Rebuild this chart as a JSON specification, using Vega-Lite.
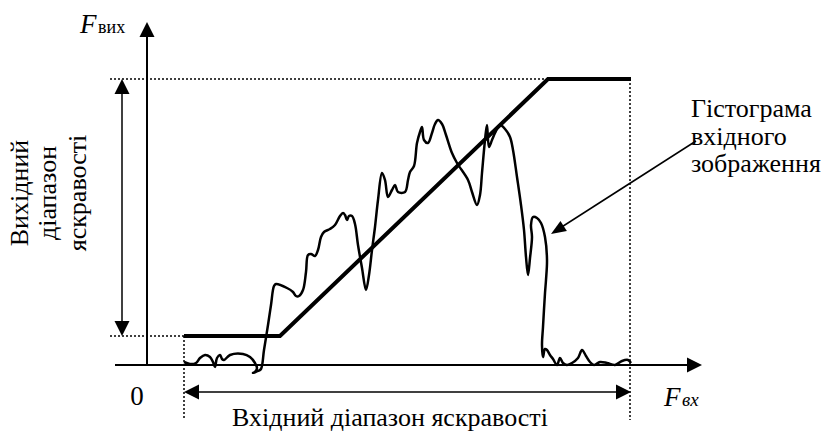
{
  "$schema": "https://vega.github.io/schema/vega-lite/v6.json",
  "width": 822,
  "height": 432,
  "padding": 0,
  "autosize": {"type": "fit", "contains": "padding"},
  "config": {"view": {"stroke": null}},
  "datasets": {
    "segs": [
      {"kind": "axis", "x": 0, "y": 0, "x2": 0, "y2": 335},
      {"kind": "axis", "x": -32, "y": 0, "x2": 547, "y2": 0},
      {"kind": "dot", "x": -37, "y": 286, "x2": 483, "y2": 286},
      {"kind": "dot", "x": 483, "y": 286, "x2": 483, "y2": -55},
      {"kind": "dot", "x": -37, "y": 29, "x2": 37, "y2": 29},
      {"kind": "dot", "x": 37, "y": 29, "x2": 37, "y2": -55},
      {"kind": "thin", "x": -25, "y": 280, "x2": -25, "y2": 35},
      {"kind": "thin", "x": 43, "y": -27, "x2": 478, "y2": -27},
      {"kind": "thin", "x": 549, "y": 224, "x2": 410, "y2": 135}
    ],
    "transfer": [
      {"i": 1, "x": 37, "y": 29},
      {"i": 2, "x": 133, "y": 29},
      {"i": 3, "x": 401, "y": 286},
      {"i": 4, "x": 484, "y": 286}
    ],
    "hist": [
      {"i": 1, "x": 37, "y": 3}, {"i": 2, "x": 43, "y": 1}, {"i": 3, "x": 49, "y": 2},
      {"i": 4, "x": 53, "y": 7}, {"i": 5, "x": 58, "y": 10}, {"i": 6, "x": 63, "y": 8},
      {"i": 7, "x": 66, "y": 3}, {"i": 8, "x": 68, "y": -2}, {"i": 9, "x": 70, "y": 7},
      {"i": 10, "x": 73, "y": 10}, {"i": 11, "x": 75, "y": 6}, {"i": 12, "x": 77, "y": 5},
      {"i": 13, "x": 83, "y": 10}, {"i": 14, "x": 96, "y": 11}, {"i": 15, "x": 103, "y": 8},
      {"i": 16, "x": 108, "y": 2}, {"i": 17, "x": 110, "y": -3}, {"i": 18, "x": 108, "y": -7},
      {"i": 19, "x": 106, "y": -8}, {"i": 20, "x": 111, "y": -6}, {"i": 21, "x": 114, "y": -4},
      {"i": 22, "x": 117, "y": 15}, {"i": 23, "x": 121, "y": 40}, {"i": 24, "x": 124, "y": 60},
      {"i": 25, "x": 127, "y": 79}, {"i": 26, "x": 129, "y": 81}, {"i": 27, "x": 140, "y": 77},
      {"i": 28, "x": 146, "y": 73}, {"i": 29, "x": 149, "y": 69}, {"i": 30, "x": 152, "y": 69},
      {"i": 31, "x": 156, "y": 75}, {"i": 32, "x": 159, "y": 93}, {"i": 33, "x": 161, "y": 110},
      {"i": 34, "x": 164, "y": 111}, {"i": 35, "x": 168, "y": 109}, {"i": 36, "x": 171, "y": 115},
      {"i": 37, "x": 174, "y": 128}, {"i": 38, "x": 177, "y": 133}, {"i": 39, "x": 183, "y": 136},
      {"i": 40, "x": 188, "y": 140}, {"i": 41, "x": 193, "y": 149}, {"i": 42, "x": 196, "y": 152},
      {"i": 43, "x": 198, "y": 150}, {"i": 44, "x": 200, "y": 145}, {"i": 45, "x": 202, "y": 149},
      {"i": 46, "x": 205, "y": 149}, {"i": 47, "x": 208, "y": 141}, {"i": 48, "x": 211, "y": 120},
      {"i": 49, "x": 215, "y": 97}, {"i": 50, "x": 219, "y": 75}, {"i": 51, "x": 222, "y": 90},
      {"i": 52, "x": 225, "y": 115}, {"i": 53, "x": 228, "y": 138}, {"i": 54, "x": 231, "y": 165},
      {"i": 55, "x": 235, "y": 192}, {"i": 56, "x": 238, "y": 185}, {"i": 57, "x": 241, "y": 168},
      {"i": 58, "x": 245, "y": 175}, {"i": 59, "x": 248, "y": 180}, {"i": 60, "x": 251, "y": 173},
      {"i": 61, "x": 258, "y": 173}, {"i": 62, "x": 261, "y": 185}, {"i": 63, "x": 263, "y": 193},
      {"i": 64, "x": 267, "y": 199}, {"i": 65, "x": 270, "y": 222}, {"i": 66, "x": 273, "y": 233},
      {"i": 67, "x": 275, "y": 238}, {"i": 68, "x": 277, "y": 225}, {"i": 69, "x": 281, "y": 222},
      {"i": 70, "x": 285, "y": 232}, {"i": 71, "x": 288, "y": 241}, {"i": 72, "x": 291, "y": 245},
      {"i": 73, "x": 295, "y": 241}, {"i": 74, "x": 299, "y": 230}, {"i": 75, "x": 305, "y": 212},
      {"i": 76, "x": 310, "y": 202}, {"i": 77, "x": 321, "y": 185}, {"i": 78, "x": 325, "y": 173},
      {"i": 79, "x": 330, "y": 160}, {"i": 80, "x": 333, "y": 170}, {"i": 81, "x": 335, "y": 192},
      {"i": 82, "x": 338, "y": 225}, {"i": 83, "x": 340, "y": 240}, {"i": 84, "x": 342, "y": 218},
      {"i": 85, "x": 345, "y": 225}, {"i": 86, "x": 348, "y": 232}, {"i": 87, "x": 353, "y": 240},
      {"i": 88, "x": 358, "y": 236}, {"i": 89, "x": 363, "y": 228}, {"i": 90, "x": 366, "y": 215},
      {"i": 91, "x": 370, "y": 188}, {"i": 92, "x": 374, "y": 160}, {"i": 93, "x": 377, "y": 135},
      {"i": 94, "x": 379, "y": 108}, {"i": 95, "x": 381, "y": 90}, {"i": 96, "x": 383, "y": 107},
      {"i": 97, "x": 385, "y": 128}, {"i": 98, "x": 384, "y": 140}, {"i": 99, "x": 386, "y": 148},
      {"i": 100, "x": 390, "y": 147}, {"i": 101, "x": 394, "y": 142}, {"i": 102, "x": 398, "y": 128},
      {"i": 103, "x": 400, "y": 105}, {"i": 104, "x": 399, "y": 85}, {"i": 105, "x": 398, "y": 72},
      {"i": 106, "x": 396, "y": 38}, {"i": 107, "x": 395, "y": 20}, {"i": 108, "x": 396, "y": 8},
      {"i": 109, "x": 398, "y": 16}, {"i": 110, "x": 400, "y": 15}, {"i": 111, "x": 403, "y": 10},
      {"i": 112, "x": 406, "y": 6}, {"i": 113, "x": 410, "y": 0}, {"i": 114, "x": 413, "y": 7},
      {"i": 115, "x": 416, "y": 2}, {"i": 116, "x": 420, "y": 0}, {"i": 117, "x": 425, "y": 2},
      {"i": 118, "x": 431, "y": 7}, {"i": 119, "x": 435, "y": 15}, {"i": 120, "x": 439, "y": 9},
      {"i": 121, "x": 443, "y": 3}, {"i": 122, "x": 447, "y": 0}, {"i": 123, "x": 453, "y": 3},
      {"i": 124, "x": 460, "y": 2}, {"i": 125, "x": 468, "y": 0}, {"i": 126, "x": 475, "y": 4},
      {"i": 127, "x": 481, "y": 5}, {"i": 128, "x": 484, "y": 2}
    ],
    "arrows": [
      {"kind": "big", "x": 0, "y": 343, "deg": 0},
      {"kind": "big", "x": 555, "y": 0, "deg": 90},
      {"kind": "big", "x": -25, "y": 286, "deg": 0},
      {"kind": "big", "x": -25, "y": 29, "deg": 180},
      {"kind": "big", "x": 37, "y": -27, "deg": 270},
      {"kind": "big", "x": 484, "y": -27, "deg": 90},
      {"kind": "slim", "x": 404, "y": 131, "deg": 237.6}
    ],
    "anchors": [
      {"id": "Fy", "x": -67, "y": 332},
      {"id": "Fx", "x": 517, "y": -41},
      {"id": "sy", "x": -49, "y": 332},
      {"id": "sx", "x": 535, "y": -41},
      {"id": "zero", "x": -10, "y": -40},
      {"id": "main", "x": 243, "y": -61},
      {"id": "r1", "x": -119, "y": 172},
      {"id": "r2", "x": -91, "y": 172},
      {"id": "r3", "x": -61, "y": 172},
      {"id": "n1", "x": 544, "y": 248},
      {"id": "n2", "x": 544, "y": 220},
      {"id": "n3", "x": 544, "y": 193}
    ]
  },
  "encoding": {
    "x": {"field": "x", "type": "quantitative", "axis": null, "scale": {"domain": [-147, 675], "nice": false, "zero": false}},
    "y": {"field": "y", "type": "quantitative", "axis": null, "scale": {"domain": [-67, 365], "nice": false, "zero": false}}
  },
  "layer": [
    {
      "data": {"name": "segs"},
      "transform": [{"filter": "datum.kind === 'dot'"}],
      "mark": {"type": "rule", "color": "black", "strokeWidth": 1.5, "strokeDash": [2, 2]},
      "encoding": {"x2": {"field": "x2"}, "y2": {"field": "y2"}}
    },
    {
      "data": {"name": "segs"},
      "transform": [{"filter": "datum.kind === 'axis'"}],
      "mark": {"type": "rule", "color": "black", "strokeWidth": 2},
      "encoding": {"x2": {"field": "x2"}, "y2": {"field": "y2"}}
    },
    {
      "data": {"name": "segs"},
      "transform": [{"filter": "datum.kind === 'thin'"}],
      "mark": {"type": "rule", "color": "black", "strokeWidth": 1.5},
      "encoding": {"x2": {"field": "x2"}, "y2": {"field": "y2"}}
    },
    {
      "data": {"name": "transfer"},
      "mark": {"type": "line", "color": "black", "strokeWidth": 4, "strokeJoin": "miter"},
      "encoding": {"order": {"field": "i", "type": "quantitative"}}
    },
    {
      "data": {"name": "hist"},
      "mark": {"type": "line", "color": "black", "strokeWidth": 2.5, "interpolate": "catmull-rom"},
      "encoding": {"order": {"field": "i", "type": "quantitative"}}
    },
    {
      "data": {"name": "arrows"},
      "transform": [{"filter": "datum.kind === 'big'"}],
      "mark": {"type": "point", "shape": "M0,0L-1,2L1,2Z", "filled": true, "color": "black", "size": 225, "opacity": 1},
      "encoding": {"angle": {"field": "deg", "type": "quantitative", "scale": null}}
    },
    {
      "data": {"name": "arrows"},
      "transform": [{"filter": "datum.kind === 'slim'"}],
      "mark": {"type": "point", "shape": "M0,0L-0.8,2L0.8,2Z", "filled": true, "color": "black", "size": 225, "opacity": 1},
      "encoding": {"angle": {"field": "deg", "type": "quantitative", "scale": null}}
    },
    {
      "data": {"name": "anchors"},
      "transform": [{"filter": "datum.id === 'Fy' || datum.id === 'Fx'"}],
      "mark": {"type": "text", "font": "Times New Roman", "fontStyle": "italic", "fontSize": 27, "align": "left", "baseline": "alphabetic"},
      "encoding": {"text": {"value": "F"}}
    },
    {
      "data": {"name": "anchors"},
      "transform": [{"filter": "datum.id === 'sy'"}],
      "mark": {"type": "text", "font": "Times New Roman", "fontSize": 18, "align": "left", "baseline": "alphabetic"},
      "encoding": {"text": {"value": "вих"}}
    },
    {
      "data": {"name": "anchors"},
      "transform": [{"filter": "datum.id === 'sx'"}],
      "mark": {"type": "text", "font": "Times New Roman", "fontStyle": "italic", "fontSize": 19, "align": "left", "baseline": "alphabetic"},
      "encoding": {"text": {"value": "вх"}}
    },
    {
      "data": {"name": "anchors"},
      "transform": [{"filter": "datum.id === 'zero'"}],
      "mark": {"type": "text", "font": "Times New Roman", "fontSize": 27, "align": "center", "baseline": "alphabetic"},
      "encoding": {"text": {"value": "0"}}
    },
    {
      "data": {"name": "anchors"},
      "transform": [{"filter": "datum.id === 'main'"}],
      "mark": {"type": "text", "font": "Times New Roman", "fontSize": 26, "align": "center", "baseline": "alphabetic"},
      "encoding": {"text": {"value": "Вхідний діапазон яскравості"}}
    },
    {
      "data": {"name": "anchors"},
      "transform": [{"filter": "datum.id === 'r1'"}],
      "mark": {"type": "text", "font": "Times New Roman", "fontSize": 26, "angle": 270, "align": "center", "baseline": "alphabetic"},
      "encoding": {"text": {"value": "Вихідний"}}
    },
    {
      "data": {"name": "anchors"},
      "transform": [{"filter": "datum.id === 'r2'"}],
      "mark": {"type": "text", "font": "Times New Roman", "fontSize": 26, "angle": 270, "align": "center", "baseline": "alphabetic"},
      "encoding": {"text": {"value": "діапазон"}}
    },
    {
      "data": {"name": "anchors"},
      "transform": [{"filter": "datum.id === 'r3'"}],
      "mark": {"type": "text", "font": "Times New Roman", "fontSize": 26, "angle": 270, "align": "center", "baseline": "alphabetic"},
      "encoding": {"text": {"value": "яскравості"}}
    },
    {
      "data": {"name": "anchors"},
      "transform": [{"filter": "datum.id === 'n1'"}],
      "mark": {"type": "text", "font": "Times New Roman", "fontSize": 26, "align": "left", "baseline": "alphabetic"},
      "encoding": {"text": {"value": "Гістограма"}}
    },
    {
      "data": {"name": "anchors"},
      "transform": [{"filter": "datum.id === 'n2'"}],
      "mark": {"type": "text", "font": "Times New Roman", "fontSize": 26, "align": "left", "baseline": "alphabetic"},
      "encoding": {"text": {"value": "вхідного"}}
    },
    {
      "data": {"name": "anchors"},
      "transform": [{"filter": "datum.id === 'n3'"}],
      "mark": {"type": "text", "font": "Times New Roman", "fontSize": 26, "align": "left", "baseline": "alphabetic"},
      "encoding": {"text": {"value": "зображення"}}
    }
  ]
}
